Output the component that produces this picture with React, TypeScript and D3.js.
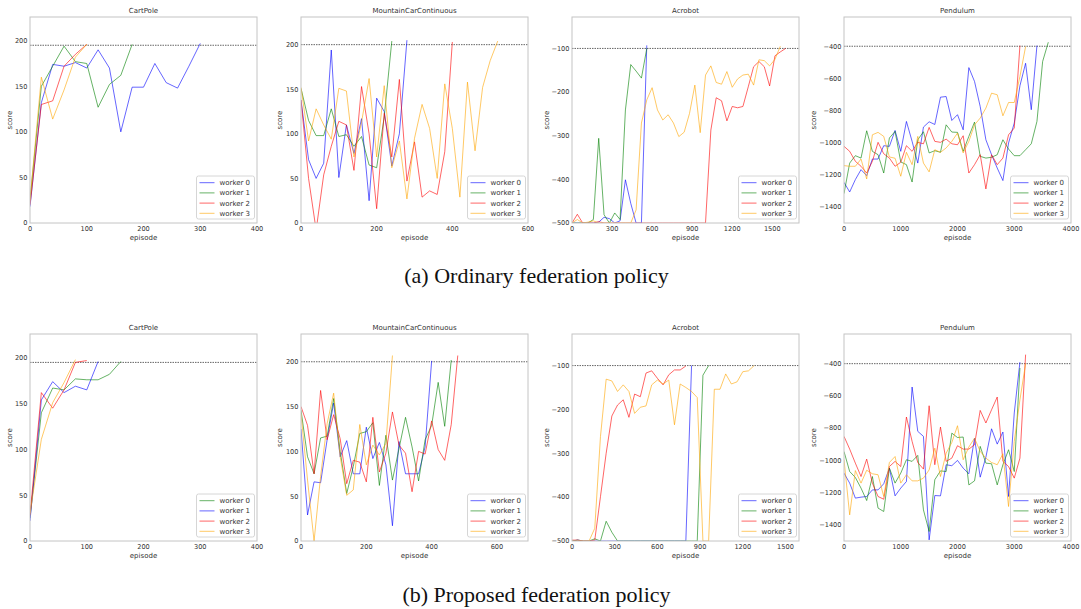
import * as d3 from 'd3';

// scores are logged every N episodes
const cartStep = 20;
const mountainStep = 20;
const acroStep = 40;
const pendStep = 100;

// (a) ordinary federation policy
const cartA0 = [18, 132, 174, 172, 176, 170, 190, 170, 100, 149, 149, 175, 154, 148, 172, 197];
const cartA1 = [25, 150, 172, 194, 177, 175, 127, 152, 162, 196];
const cartA2 = [20, 130, 134, 172, 185, 196];
const cartA3 = [25, 160, 114, 146, 182, 196];

const mountA0 = [138, 71, 50, 67, 194, 51, 110, 78, 117, 25, 140, 125, 64, 100, 205];
const mountA1 = [151, 115, 98, 98, 128, 97, 99, 86, 97, 65, 62, 119, 204];
const mountA2 = [138, 50, -8, 54, 86, 114, 110, 59, 153, 100, 16, 123, 74, 161, 47, 91, 29, 36, 32, 80, 203];
const mountA3 = [152, 92, 128, 110, 94, 151, 148, 74, 113, 162, 74, 154, 62, 92, 27, 95, 133, 106, 50, 156, 106, 29, 158, 81, 152, 182, 204];

const acroA0 = [-500, -500, -500, -500, -500, -498, -487, -490, -500, -495, -401, -455, -500, -500, -93];
const acroA1 = [-500, -500, -500, -500, -492, -306, -481, -500, -477, -492, -241, -137, -152, -168, -100];
const acroA2 = [-500, -480, -500, -500, -500, -497, -500, -500, -500, -500, -500, -500, -500, -500, -500, -500, -500, -500, -500, -500, -500, -500, -500, -500, -500, -500,
  -287, -213, -220, -266, -233, -236, -233, -188, -142, -130, -142, -186, -117, -108, -100];
const acroA3 = [-500, -492, -500, -498, -495, -500, -500, -500, -500, -500, -500, -500, -470, -271, -218, -190, -241, -264, -252, -271,
  -302, -292, -249, -184, -293, -161, -140, -178, -182, -153, -189, -170, -161, -159, -184, -126, -128, -140, -125, -95];

const pendA0 = [-1247, -1307, -1230, -1168, -1205, -1102, -1102, -1019, -1023, -924, -1054, -868, -992, -1127, -903, -870, -887, -717,
  -713, -862, -826, -920, -533, -619, -775, -982, -1075, -1158, -1236, -1002, -878, -646, -506, -795, -396];
const pendA1 = [-1317, -1127, -1081, -1096, -926, -1054, -1075, -1189, -971, -930, -1120, -1137, -1245, -982, -932, -1064, -1050, -1060,
  -889, -934, -936, -1054, -961, -872, -1085, -1096, -1091, -1075, -982, -1040, -1081, -1081, -1044, -1007, -868, -495, -375];
const pendA2 = [-1023, -1054, -1116, -1147, -1189, -1116, -998, -1069, -1096, -1147, -1122, -1019, -1054, -998, -1007, -905, -992, -998,
  -978, -1007, -1013, -957, -1189, -1137, -1075, -1288, -1075, -1137, -1096, -951, -909, -396];
const pendA3 = [-1143, -1147, -1147, -1102, -1226, -951, -936, -961, -1089, -1097, -1209, -1060, -1137, -961, -1127, -1182, -1044, -1060,
  -1033, -992, -940, -1064, -992, -889, -847, -785, -692, -702, -833, -750, -750, -588, -402];

// (b) proposed federation policy
const cartB0 = [25, 140, 167, 165, 177, 176, 176, 182, 196];
const cartB1 = [22, 154, 174, 162, 169, 165, 196];
const cartB2 = [28, 162, 145, 165, 195, 197];
const cartB3 = [30, 111, 151, 173, 198];

const mountB0 = [125, 29, 66, 65, 113, 154, 94, 112, 75, 75, 127, 92, 110, 85, 17, 111, 75, 75, 75, 105, 201];
const mountB1 = [146, 94, 75, 115, 117, 159, 100, 53, 83, 120, 122, 132, 62, 118, 68, 103, 138, 105, 67, 113, 129, 177, 128, 202];
const mountB2 = [150, 129, 75, 168, 113, 141, 114, 64, 90, 88, 66, 138, 77, 98, 144, 107, 98, 55, 100, 97, 134, 102, 90, 130, 207];
const mountB3 = [142, 68, 0, 72, 131, 165, 94, 51, 57, 130, 85, 107, 96, 109, 207];

const acroB0 = [-500, -498, -500, -500, -500, -500, -500, -500, -500, -500, -500, -500, -500, -500, -500, -500, -500, -500, -500, -500, -500, -100];
const acroB1 = [-500, -498, -500, -500, -495, -500, -455, -480, -500, -500, -500, -500, -500, -500, -500, -500, -500, -500, -500, -500, -500, -500, -500, -122, -100];
const acroB2 = [-498, -498, -500, -500, -498, -399, -300, -215, -190, -178, -218, -165, -171, -117, -112, -129, -144, -121, -110, -110, -101];
const acroB3 = [-500, -500, -500, -500, -471, -262, -131, -135, -159, -144, -159, -209, -195, -192, -144, -133, -142, -133, -235, -142,
  -150, -159, -173, -500, -500, -154, -154, -119, -142, -137, -114, -112, -100];

const pendB0 = [-1079, -1141, -1234, -1228, -1224, -1183, -1183, -1145, -1048, -1220, -1172, -1131, -545, -820, -851, -1493, -1218, -1220,
  -1027, -1033, -1000, -1048, -1083, -862, -1104, -980, -804, -899, -824, -1224, -706, -390];
const pendB1 = [-945, -1069, -1106, -1172, -1249, -1100, -1296, -1317, -1048, -1141, -1079, -996, -1006, -969, -1307, -1441, -1120, -1065,
  -1069, -831, -858, -855, -1152, -1127, -913, -1017, -1021, -1152, -1027, -934, -1069, -427];
const pendB2 = [-851, -930, -1017, -1100, -992, -1141, -1224, -1241, -1038, -1006, -1038, -731, -882, -1013, -1054, -661, -1027, -793,
  -1006, -986, -909, -930, -930, -903, -690, -768, -686, -607, -1006, -1038, -1110, -986, -344];
const pendB3 = [-996, -1338, -1063, -1141, -1061, -1083, -1089, -1224, -1013, -976, -1141, -1089, -1127, -1127, -1110, -1059, -924, -1100,
  -955, -889, -785, -996, -917, -862, -944, -986, -1013, -1027, -959, -1286, -882, -624, -400];

const workers = ['worker 0', 'worker 1', 'worker 2', 'worker 3'];

const blue = 'rgba(0,0,255,0.6)';
const green = 'rgba(0,128,0,0.6)';
const red = 'rgba(255,0,0,0.6)';
const orange = 'rgba(255,165,0,0.6)';

const font = 'DejaVu Sans, sans-serif';
const frameColor = '#c4c4c4';
const textColor = '#333';

const PW = 227;
const lefts = [30, 301, 572, 844];
const rowA = { top: 17, bottom: 223 };
const rowB = { top: 334, bottom: 541 };

const Panel = ({ id, left, row, title, xMax, xTicks, yDomain, yTicks, threshold, step, lines, colors, ylabOff }) => {
  const x = d3.scaleLinear().domain([0, xMax]).range([left, left + PW]);
  const y = d3.scaleLinear().domain(yDomain).range([row.bottom, row.top]);
  const line = d3.line().x(d => x(d[0])).y(d => y(d[1]));
  const right = left + PW;
  const fmt = d3.format('d');
  const lgX = right - 60.5;
  const lgY = row.bottom - 47;

  return (
    <g>
      <defs>
        <clipPath id={id}>
          <rect x={left} y={row.top} width={PW} height={row.bottom - row.top} />
        </clipPath>
      </defs>
      <rect x={left} y={row.top} width={PW} height={row.bottom - row.top} fill="white" />
      <line x1={left} x2={right} y1={y(threshold)} y2={y(threshold)}
        stroke="#555" strokeWidth={0.9} strokeDasharray="1.5,1" />
      <g clipPath={`url(#${id})`}>
        {lines.map((vals, i) => (
          <path key={i} d={line(vals.map((v, j) => [j * step, v]))}
            fill="none" stroke={colors[i]} strokeWidth={1} />
        ))}
      </g>
      <rect x={left} y={row.top} width={PW} height={row.bottom - row.top}
        fill="none" stroke={frameColor} strokeWidth={1} />
      {xTicks.map(t => (
        <text key={'x' + t} x={x(t)} y={row.bottom + 8} textAnchor="middle"
          fontSize={6.6} fontFamily={font} fill={textColor}>{fmt(t)}</text>
      ))}
      {yTicks.map(t => (
        <text key={'y' + t} x={left - 2.5} y={y(t)} dy="0.35em" textAnchor="end"
          fontSize={6.6} fontFamily={font} fill={textColor}>{fmt(t)}</text>
      ))}
      <text x={(left + right) / 2} y={row.top - 4} textAnchor="middle"
        fontSize={7} fontFamily={font} fill={textColor}>{title}</text>
      <text x={(left + right) / 2} y={row.bottom + 17} textAnchor="middle"
        fontSize={7} fontFamily={font} fill={textColor}>episode</text>
      <text transform={`translate(${left - ylabOff + 2},${(row.top + row.bottom) / 2}) rotate(-90)`}
        textAnchor="middle" fontSize={7} fontFamily={font} fill={textColor}>score</text>
      <rect x={lgX} y={lgY} width={58} height={43} rx={2} fill="white" fillOpacity={0.8}
        stroke="#cccccc" strokeWidth={0.8} />
      {workers.map((w, i) => (
        <g key={w}>
          <line x1={lgX + 3} x2={lgX + 18} y1={lgY + 6.7 + i * 10.2} y2={lgY + 6.7 + i * 10.2}
            stroke={colors[i]} strokeWidth={1} />
          <text x={lgX + 23} y={lgY + 6.7 + i * 10.2} dy="0.35em" fontSize={7}
            fontFamily={font} fill={textColor}>{w}</text>
        </g>
      ))}
    </g>
  );
};

const std = [blue, green, red, orange];
const cartBColors = [green, blue, red, orange];

export default function App() {
  const cartTicksY = [0, 50, 100, 150, 200];
  const acroTicksY = [-500, -400, -300, -200, -100];
  const pendTicksY = [-1400, -1200, -1000, -800, -600, -400];
  return (
    <svg width={1081} height={609} style={{ position: 'absolute', left: 0, top: 0, background: 'white' }}>
      <rect width={1081} height={609} fill="white" />
      <Panel id="c1" left={lefts[0]} row={rowA} title="CartPole" xMax={400} xTicks={[0, 100, 200, 300, 400]}
        yDomain={[0, 226]} yTicks={cartTicksY} threshold={195} step={cartStep}
        lines={[cartA0, cartA1, cartA2, cartA3]} colors={std} ylabOff={20} />
      <Panel id="c2" left={lefts[1]} row={rowA} title="MountainCarContinuous" xMax={600} xTicks={[0, 200, 400, 600]}
        yDomain={[0, 231]} yTicks={cartTicksY} threshold={200} step={mountainStep}
        lines={[mountA0, mountA1, mountA2, mountA3]} colors={std} ylabOff={21} />
      <Panel id="c3" left={lefts[2]} row={rowA} title="Acrobot" xMax={1700} xTicks={[0, 300, 600, 900, 1200, 1500]}
        yDomain={[-500, -28]} yTicks={acroTicksY} threshold={-100} step={acroStep}
        lines={[acroA0, acroA1, acroA2, acroA3]} colors={std} ylabOff={25} />
      <Panel id="c4" left={lefts[3]} row={rowA} title="Pendulum" xMax={4000} xTicks={[0, 1000, 2000, 3000, 4000]}
        yDomain={[-1500, -218]} yTicks={pendTicksY} threshold={-400} step={pendStep}
        lines={[pendA0, pendA1, pendA2, pendA3]} colors={std} ylabOff={30} />

      <Panel id="c5" left={lefts[0]} row={rowB} title="CartPole" xMax={400} xTicks={[0, 100, 200, 300, 400]}
        yDomain={[0, 226]} yTicks={cartTicksY} threshold={195} step={cartStep}
        lines={[cartB0, cartB1, cartB2, cartB3]} colors={cartBColors} ylabOff={20} />
      <Panel id="c6" left={lefts[1]} row={rowB} title="MountainCarContinuous" xMax={695} xTicks={[0, 200, 400, 600]}
        yDomain={[0, 231]} yTicks={cartTicksY} threshold={200} step={mountainStep}
        lines={[mountB0, mountB1, mountB2, mountB3]} colors={std} ylabOff={21} />
      <Panel id="c7" left={lefts[2]} row={rowB} title="Acrobot" xMax={1595} xTicks={[0, 300, 600, 900, 1200, 1500]}
        yDomain={[-500, -28]} yTicks={acroTicksY} threshold={-100} step={acroStep}
        lines={[acroB0, acroB1, acroB2, acroB3]} colors={std} ylabOff={25} />
      <Panel id="c8" left={lefts[3]} row={rowB} title="Pendulum" xMax={4000} xTicks={[0, 1000, 2000, 3000, 4000]}
        yDomain={[-1500, -216]} yTicks={pendTicksY} threshold={-400} step={pendStep}
        lines={[pendB0, pendB1, pendB2, pendB3]} colors={std} ylabOff={30} />

      <text x={536.5} y={283} textAnchor="middle" fontSize={22} fontFamily="Liberation Serif, serif" fill="#111">
        (a) Ordinary federation policy
      </text>
      <text x={536.5} y={602} textAnchor="middle" fontSize={22} fontFamily="Liberation Serif, serif" fill="#111">
        (b) Proposed federation policy
      </text>
    </svg>
  );
}
